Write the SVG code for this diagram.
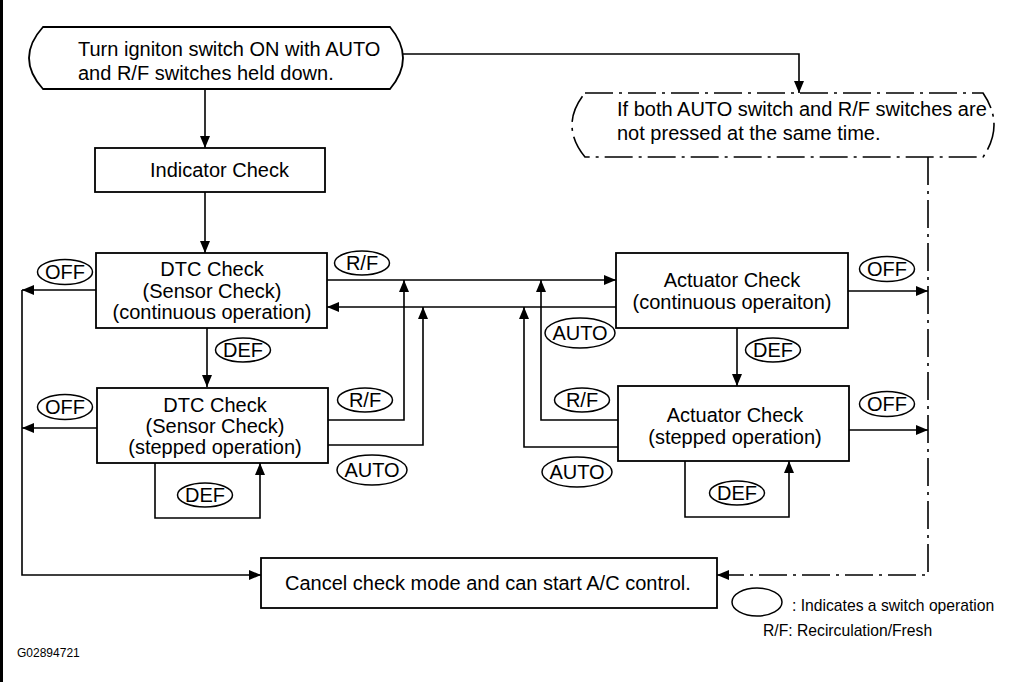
<svg xmlns="http://www.w3.org/2000/svg" width="1019" height="682" viewBox="0 0 1019 682">
<style>
text{font-family:"Liberation Sans",Arial,sans-serif;fill:#000}
.t{font-size:20px}
.l{font-size:20px;text-anchor:middle}
.c{text-anchor:middle}
.s{font-size:15.7px}
.box{fill:#fff;stroke:#000;stroke-width:1.8}
.ln{fill:none;stroke:#000;stroke-width:1.6}
.dd{fill:none;stroke:#000;stroke-width:1.6;stroke-dasharray:28 6 3 6}
.ov{fill:#fff;stroke:#000;stroke-width:1.5}
</style>
<defs>
<marker id="ah" viewBox="0 0 12 10" refX="12" refY="5" markerWidth="12" markerHeight="10" markerUnits="userSpaceOnUse" orient="auto">
<path d="M0,0 L12,5 L0,10 Z" fill="#000"/>
</marker>
</defs>
<rect x="0" y="0" width="1019" height="682" fill="#fff"/>
<rect x="0" y="0" width="3" height="682" fill="#000"/>

<g id="connectors">
<path class="ln" d="M403,54 H799 V93" marker-end="url(#ah)"/>
<path class="ln" d="M205,89 V148" marker-end="url(#ah)"/>
<path class="ln" d="M205,192 V253" marker-end="url(#ah)"/>
<path class="ln" d="M207,328 V387" marker-end="url(#ah)"/>
<path class="ln" d="M96,290 H22" marker-end="url(#ah)"/>
<path class="ln" d="M97,428 H22" marker-end="url(#ah)"/>
<path class="ln" d="M22,290 V575 H261" marker-end="url(#ah)"/>
<path class="ln" d="M155,463 V518 H260 V463" marker-end="url(#ah)"/>
<path class="ln" d="M327,280 H616" marker-end="url(#ah)"/>
<path class="ln" d="M616,307 H327" marker-end="url(#ah)"/>
<path class="ln" d="M328,420 H404 V280" marker-end="url(#ah)"/>
<path class="ln" d="M328,445 H423 V307" marker-end="url(#ah)"/>
<path class="ln" d="M618,420 H541 V280" marker-end="url(#ah)"/>
<path class="ln" d="M618,447 H524 V307" marker-end="url(#ah)"/>
<path class="ln" d="M737,328 V386" marker-end="url(#ah)"/>
<path class="ln" d="M685,461 V517 H789 V461" marker-end="url(#ah)"/>
<path class="ln" d="M848,291 H928" marker-end="url(#ah)"/>
<path class="ln" d="M849,430 H928" marker-end="url(#ah)"/>
<path class="dd" d="M928,157 V575 H717" marker-end="url(#ah)"/>
</g>

<g id="start">
<path class="box" d="M43,27 H390 Q416,58 390,89 H43 Q15,58 43,27 Z"/>
<text class="t" x="78" y="56">Turn igniton switch ON with AUTO</text>
<text class="t" x="78" y="80">and R/F switches held down.</text>
</g>

<g id="alt">
<path class="dd" d="M585,93 H983 Q1005,125 983,157 H585 Q559,125 585,93 Z" fill="#fff"/>
<text class="t" x="617" y="116">If both AUTO switch and R/F switches are</text>
<text class="t" x="617" y="140">not pressed at the same time.</text>
</g>

<g id="indicator">
<rect class="box" x="95" y="148" width="230" height="44"/>
<text class="t" x="150" y="177">Indicator Check</text>
</g>

<g id="dtc1">
<rect class="box" x="96" y="253" width="231" height="75"/>
<text class="t c" x="212" y="276">DTC Check</text>
<text class="t c" x="212" y="298">(Sensor Check)</text>
<text class="t c" x="212" y="319">(continuous operation)</text>
</g>

<g id="dtc2">
<rect class="box" x="97" y="388" width="231" height="75"/>
<text class="t c" x="215" y="412">DTC Check</text>
<text class="t c" x="215" y="433">(Sensor Check)</text>
<text class="t c" x="215" y="454">(stepped operation)</text>
</g>

<g id="act1">
<rect class="box" x="616" y="253" width="232" height="75"/>
<text class="t c" x="732" y="287">Actuator Check</text>
<text class="t c" x="732" y="309">(continuous operaiton)</text>
</g>

<g id="act2">
<rect class="box" x="618" y="386" width="231" height="75"/>
<text class="t c" x="735" y="422">Actuator Check</text>
<text class="t c" x="735" y="444">(stepped operation)</text>
</g>

<g id="cancel">
<rect class="box" x="261" y="558" width="456" height="50"/>
<text class="t" x="285" y="590">Cancel check mode and can start A/C control.</text>
</g>

<g id="switch-labels">
<ellipse class="ov" cx="65" cy="272" rx="27.5" ry="12.5"/><text class="l" x="65" y="279">OFF</text>
<ellipse class="ov" cx="65" cy="407" rx="27.5" ry="12.5"/><text class="l" x="65" y="414">OFF</text>
<ellipse class="ov" cx="243" cy="350" rx="27.5" ry="12"/><text class="l" x="243" y="357">DEF</text>
<ellipse class="ov" cx="205" cy="495" rx="27.5" ry="12"/><text class="l" x="205" y="502">DEF</text>
<ellipse class="ov" cx="362" cy="263" rx="27.5" ry="12"/><text class="l" x="362" y="270">R/F</text>
<ellipse class="ov" cx="365" cy="400" rx="27.5" ry="12"/><text class="l" x="365" y="407">R/F</text>
<ellipse class="ov" cx="372" cy="470" rx="35" ry="15"/><text class="l" x="372" y="477">AUTO</text>
<ellipse class="ov" cx="580" cy="333" rx="35" ry="15"/><text class="l" x="580" y="340">AUTO</text>
<ellipse class="ov" cx="582" cy="400" rx="27.5" ry="12"/><text class="l" x="582" y="407">R/F</text>
<ellipse class="ov" cx="577" cy="472" rx="35" ry="15"/><text class="l" x="577" y="479">AUTO</text>
<ellipse class="ov" cx="773" cy="350" rx="27.5" ry="12"/><text class="l" x="773" y="357">DEF</text>
<ellipse class="ov" cx="737" cy="493" rx="27.5" ry="12"/><text class="l" x="737" y="500">DEF</text>
<ellipse class="ov" cx="887" cy="269" rx="27.5" ry="12.5"/><text class="l" x="887" y="276">OFF</text>
<ellipse class="ov" cx="887" cy="404" rx="27.5" ry="12.5"/><text class="l" x="887" y="411">OFF</text>
</g>

<g id="legend">
<ellipse class="ov" cx="757" cy="602" rx="25" ry="14"/>
<text class="s" x="792" y="611">: Indicates a switch operation</text>
<text class="s" x="763" y="636">R/F: Recirculation/Fresh</text>
</g>
<text x="17" y="657" font-size="12">G02894721</text>
</svg>
